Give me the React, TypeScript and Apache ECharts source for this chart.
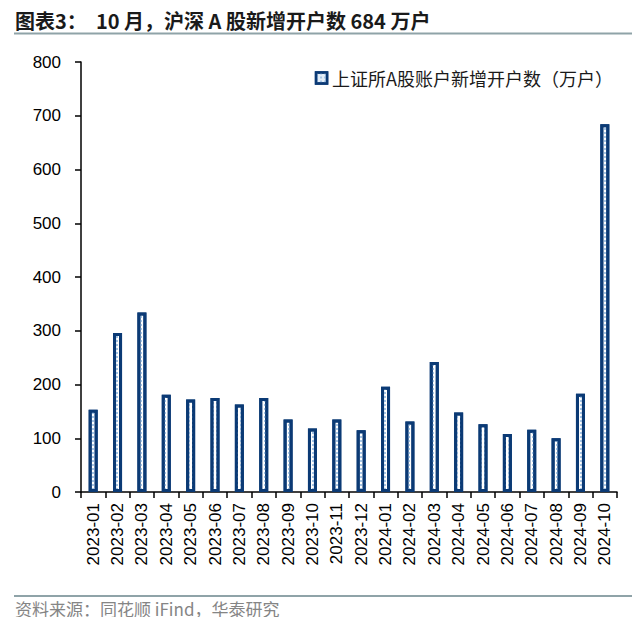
import React, { useEffect, useRef } from "react";
import * as echarts from "echarts";

const categories = [
  "2023-01", "2023-02", "2023-03", "2023-04", "2023-05", "2023-06", "2023-07", "2023-08",
  "2023-09", "2023-10", "2023-11", "2023-12", "2024-01", "2024-02", "2024-03", "2024-04",
  "2024-05", "2024-06", "2024-07", "2024-08", "2024-09", "2024-10",
];
const newAccounts = [
  153, 296, 334, 181, 172, 175, 163, 175, 135, 118, 135, 115, 196, 131, 242, 148,
  126, 108, 116, 100, 183, 684,
];
const yTicks = [0, 100, 200, 300, 400, 500, 600, 700, 800];
const seriesName = "上证所A股账户新增开户数（万户）";
const titleText = "图表3：  10 月，沪深 A 股新增开户数 684 万户";
const sourceText = "资料来源：同花顺 iFind，华泰研究";

export default function App() {
  const ref = useRef<HTMLDivElement>(null);
  useEffect(() => {
    if (!ref.current) return;
    const chart = echarts.init(ref.current, undefined, { renderer: "svg" });
    const navy = "#0b3a75";
    chart.setOption({
      animation: false,
      backgroundColor: "#ffffff",
      textStyle: { fontFamily: "Liberation Sans, Arial, sans-serif" },
      graphic: [
        {
          type: "text",
          left: 15,
          top: 10,
          style: {
            text: titleText,
            font: "bold 20px 'Noto Sans CJK SC', sans-serif",
            fill: "#1a1a1a",
          },
        },
        {
          type: "line",
          shape: { x1: 14, y1: 33.5, x2: 640, y2: 33.5 },
          style: { stroke: "#8fa3a8", lineWidth: 2 },
        },
        {
          type: "line",
          shape: { x1: 14, y1: 596, x2: 640, y2: 596 },
          style: { stroke: "#8fa3a8", lineWidth: 2 },
        },
        {
          type: "text",
          left: 15,
          top: 600,
          style: {
            text: sourceText,
            font: "17px 'Noto Sans CJK SC', sans-serif",
            fill: "#858585",
          },
        },
      ],
      legend: {
        show: true,
        right: 22,
        top: 64,
        itemWidth: 11,
        itemHeight: 11,
        itemGap: 5,
        icon: "rect",
        textStyle: {
          fontSize: 18,
          color: "#1a1a1a",
          fontFamily: "'Noto Sans CJK SC', sans-serif",
        },
        itemStyle: { color: "#e4eef8", borderColor: navy, borderWidth: 2.5 },
      },
      grid: { left: 81, right: 23, top: 62, bottom: 133, containLabel: false },
      xAxis: {
        type: "category",
        data: categories,
        axisLine: { lineStyle: { color: "#000", width: 1.5 } },
        axisTick: { show: true, length: 6, lineStyle: { color: "#000", width: 1.5 } },
        axisLabel: {
          rotate: 90,
          interval: 0,
          fontSize: 17,
          color: "#000",
          margin: 11,
        },
      },
      yAxis: {
        type: "value",
        min: 0,
        max: 800,
        interval: 100,
        axisLine: { show: true, lineStyle: { color: "#000", width: 1.5 } },
        axisTick: { show: true, length: 6, lineStyle: { color: "#000", width: 1.5 } },
        splitLine: { show: false },
        axisLabel: {
          fontSize: 17,
          color: "#000",
          margin: 20,
          customValues: yTicks,
        },
      },
      series: [
        {
          name: seriesName,
          type: "bar",
          data: newAccounts,
          barWidth: 9,
          itemStyle: {
            color: "#ffffff",
            borderColor: navy,
            borderWidth: 3,
            decal: {
              symbol: "rect",
              symbolSize: 1,
              color: "#a6c6e6",
              backgroundColor: "#ffffff",
              dashArrayX: [1.5, 1.5],
              dashArrayY: [1.5, 1.5],
            },
          },
        },
      ],
    });
    return () => chart.dispose();
  }, []);
  return <div ref={ref} style={{ width: 640, height: 625, margin: -8 }} />;
}
